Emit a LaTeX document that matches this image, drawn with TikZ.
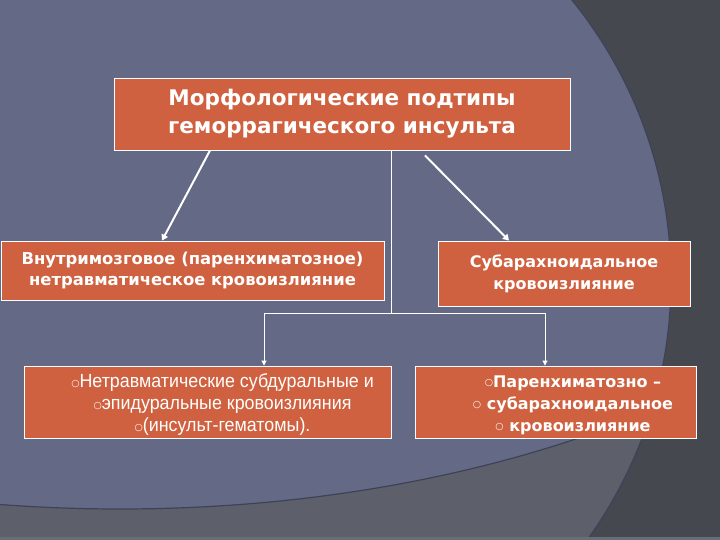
\documentclass[tikz,border=0pt]{standalone}
\usepackage{fontspec}
\setmainfont{DejaVu Sans}
\newfontfamily\narrowfont[FakeStretch=0.94]{Liberation Sans}
\newfontfamily\bulfont{DejaVu Sans}
\usetikzlibrary{arrows.meta}
\definecolor{slidedark}{RGB}{70,72,80}
\definecolor{slidegray}{RGB}{93,96,106}
\definecolor{slideblue}{RGB}{100,106,134}
\definecolor{slideline}{RGB}{62,66,88}
\definecolor{slidestrip}{RGB}{106,109,118}
\definecolor{boxred}{RGB}{207,97,64}
\newcommand{\circbul}{\raisebox{1.5pt}{\bulfont\fontsize{9.5}{9.5}\selectfont ○}}
\begin{document}
\begin{tikzpicture}[x=1pt,y=-1pt]
\tikzset{hsbox/.style={shape=rectangle, draw=white, line width=0.9pt, fill=boxred, text=white, inner sep=0pt, align=center}}
\tikzset{hstext/.style={text=white, inner sep=0pt, align=center}}
\tikzset{hsarrow/.style={-{Triangle[width=7pt,length=6pt]}, white, line width=2pt}}
\tikzset{hsthin/.style={-{Triangle[width=5pt,length=5pt]}, white, line width=0.9pt}}
% slide background
\useasboundingbox (0,0) rectangle (720,540);
\clip (0,0) rectangle (720,540);
\fill[slidedark] (0,0) rectangle (720,540);
\fill[slidegray] (226,280) circle [radius=445pt];
\begin{scope}
\clip (226,280) circle [radius=445pt];
\fill[slideblue] (120,0) ellipse [x radius=900pt, y radius=509pt];
\draw[slideline, line width=1.2pt] (120,0) ellipse [x radius=900pt, y radius=509pt];
\end{scope}
\draw[slideline, line width=1.2pt] (226,280) circle [radius=445pt];
\fill[slidestrip] (0,537) rectangle (720,540);
% boxes
\node (title) [hsbox, minimum width=456pt, minimum height=72pt, font=\bfseries\fontsize{21.5}{28}\selectfont] at (342,114) {Морфологические подтипы\\геморрагического инсульта};
\node (intra) [hsbox, minimum width=383pt, minimum height=59pt, font=\bfseries\fontsize{16.4}{21}\selectfont] at (192.5,270.5) {Внутримозговое (паренхиматозное)\\нетравматическое кровоизлияние};
\node (subarach) [hsbox, minimum width=252pt, minimum height=65pt, font=\bfseries\fontsize{16}{22}\selectfont] at (564,273.5) {Субарахноидальное\\кровоизлияние};
\node (subdural) [hsbox, minimum width=367pt, minimum height=72pt] at (207.5,402) {};
\node (paren) [hsbox, minimum width=281pt, minimum height=72pt] at (555.5,402) {};
\node (subduraltxt) [hstext, font=\narrowfont\fontsize{19}{22}\selectfont] at ([xshift=15pt,yshift=-3pt]subdural.center) {\circbul Нетравматические субдуральные и\\\circbul эпидуральные кровоизлияния\\\circbul(инсульт-гематомы).};
\node (parentxt) [hstext, font=\bfseries\fontsize{16}{22}\selectfont] at ([xshift=17.5pt,yshift=-3pt]paren.center) {\circbul Паренхиматозно –\\\circbul\ субарахноидальное\\\circbul\ кровоизлияние};
% connectors
\coordinate (fork) at (391,313);
\draw[hsarrow] ([xshift=-132pt]title.south) -- ([xshift=-30.5pt]intra.north);
\draw[hsarrow] ([xshift=83pt,yshift=-5pt]title.south) -- ([xshift=-55pt]subarach.north);
\draw[white, line width=0.9pt] ([xshift=49pt]title.south) -- (fork);
\draw[hsthin] (fork) -| ([xshift=56.5pt]subdural.north);
\draw[hsthin] (fork) -| ([xshift=-10.5pt]paren.north);
\end{tikzpicture}
\end{document}
